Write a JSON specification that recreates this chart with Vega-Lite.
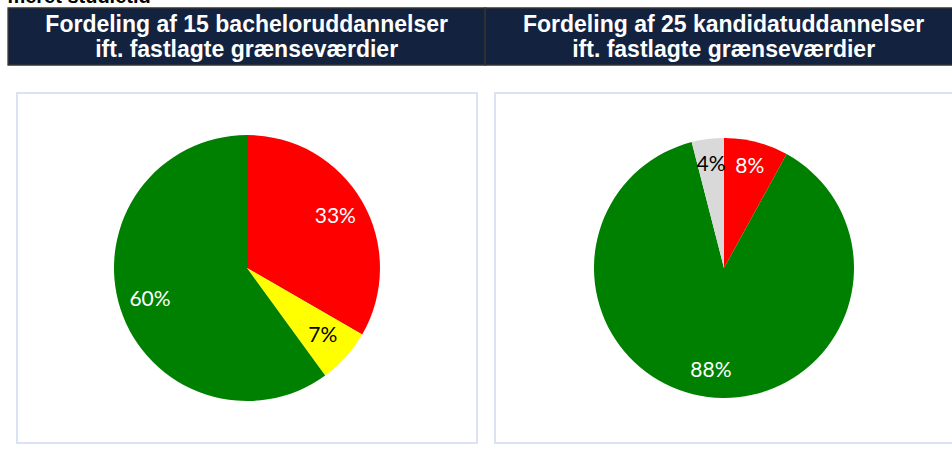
{
  "$schema": "https://vega.github.io/schema/vega-lite/v6.json",
  "background": "white",
  "padding": {"left": 7, "top": -13, "right": 0, "bottom": 0},
  "title": {"text": "meret studietid", "anchor": "start", "font": "Liberation Sans", "fontSize": 20, "fontWeight": "bold", "color": "black", "offset": 0},
  "config": {"view": {"stroke": null}},
  "datasets": {
    "head1": [{"t": "Fordeling af 15 bacheloruddannelser\nift. fastlagte grænseværdier"}],
    "head2": [{"t": "Fordeling af 25 kandidatuddannelser\nift. fastlagte grænseværdier"}],
    "bach": [
      {"cat": "rød", "n": 5, "order": 1, "label": "33%"},
      {"cat": "gul", "n": 1, "order": 2, "label": "7%"},
      {"cat": "grøn", "n": 9, "order": 3, "label": "60%"}
    ],
    "kand": [
      {"cat": "rød", "n": 2, "order": 1, "label": "8%"},
      {"cat": "grøn", "n": 22, "order": 2, "label": "88%"},
      {"cat": "grå", "n": 1, "order": 3, "label": "4%"}
    ]
  },
  "spacing": 26,
  "center": true,
  "vconcat": [
    {
      "spacing": 0,
      "bounds": "flush",
      "hconcat": [
        {
          "width": 477, "height": 57,
          "view": {"fill": "#13233f", "stroke": "#333333", "strokeWidth": 1.5},
          "data": {"name": "head1"},
          "mark": {"type": "text", "lineBreak": "\n", "lineHeight": 25, "dy": -12, "font": "Liberation Sans", "fontSize": 23, "fontWeight": "bold", "color": "white", "align": "center", "baseline": "middle"},
          "encoding": {"text": {"field": "t"}}
        },
        {
          "width": 477, "height": 57,
          "view": {"fill": "#13233f", "stroke": "#333333", "strokeWidth": 1.5},
          "data": {"name": "head2"},
          "mark": {"type": "text", "lineBreak": "\n", "lineHeight": 25, "dy": -12, "font": "Liberation Sans", "fontSize": 23, "fontWeight": "bold", "color": "white", "align": "center", "baseline": "middle"},
          "encoding": {"text": {"field": "t"}}
        }
      ]
    },
    {
      "spacing": 18,
      "bounds": "flush",
      "hconcat": [
        {
          "width": 460, "height": 350,
          "view": {"fill": "white", "stroke": "#dae3f3", "strokeWidth": 2},
          "data": {"name": "bach"},
          "encoding": {
            "theta": {"field": "n", "type": "quantitative", "stack": true},
            "order": {"field": "order", "type": "quantitative", "sort": "ascending"}
          },
          "layer": [
            {
              "mark": {"type": "arc", "outerRadius": 133},
              "encoding": {
                "color": {"field": "cat", "type": "nominal", "legend": null,
                  "scale": {"domain": ["rød", "gul", "grøn", "grå"], "range": ["#ff0000", "#ffff00", "#008000", "#d9d9d9"]}}
              }
            },
            {
              "mark": {"type": "text", "font": "Lato", "fontSize": 21},
              "encoding": {
                "text": {"field": "label"},
                "radius": {"condition": {"test": "datum.cat === 'gul'", "value": 122}, "value": 102},
                "color": {"condition": {"test": "datum.cat === 'gul' || datum.cat === 'grå'", "value": "black"}, "value": "white"}
              }
            }
          ]
        },
        {
          "width": 458, "height": 350,
          "view": {"fill": "white", "stroke": "#dae3f3", "strokeWidth": 2},
          "data": {"name": "kand"},
          "encoding": {
            "theta": {"field": "n", "type": "quantitative", "stack": true},
            "order": {"field": "order", "type": "quantitative", "sort": "ascending"}
          },
          "layer": [
            {
              "mark": {"type": "arc", "outerRadius": 130},
              "encoding": {
                "color": {"field": "cat", "type": "nominal", "legend": null,
                  "scale": {"domain": ["rød", "gul", "grøn", "grå"], "range": ["#ff0000", "#ffff00", "#008000", "#d9d9d9"]}}
              }
            },
            {
              "mark": {"type": "text", "font": "Lato", "fontSize": 21},
              "encoding": {
                "text": {"field": "label"},
                "radius": {"condition": {"test": "datum.cat === 'grå'", "value": 114}, "value": 104},
                "color": {"condition": {"test": "datum.cat === 'gul' || datum.cat === 'grå'", "value": "black"}, "value": "white"}
              }
            }
          ]
        }
      ]
    }
  ]
}
